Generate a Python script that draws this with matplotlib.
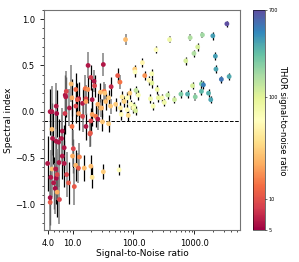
import numpy as np
import matplotlib
matplotlib.use('Agg')
import matplotlib.pyplot as plt
from matplotlib.colors import LogNorm
from matplotlib.ticker import FixedLocator, FormatStrFormatter, AutoMinorLocator, NullFormatter

snr = [3400, 390, 850, 1350, 2000, 1130, 234, 980, 2200, 720, 2250, 2760, 3700, 930, 1300, 1400,
       1300, 1700, 1850, 1030, 770, 600, 365, 470, 320, 295, 255, 210, 190, 200, 200, 245,
       74, 32, 140, 105, 106, 153, 180, 55, 60, 43, 110, 120, 87, 33, 18, 20, 22.5, 23, 9.5,
       7.6, 7.9, 11.3, 16.2, 17.9, 12.6, 16.6, 11.3, 8.9, 4.3, 5.4, 5.5, 7.5, 28.7, 33.8, 39,
       65, 79, 102, 7.75, 9.8, 4.6, 4.6, 6.8, 9.8, 16.6, 19.3, 4.7, 5.4, 7.3, 10.3, 20, 12.6,
       14.6, 21, 24, 26, 12, 14.6, 16.6, 21, 26, 29, 30, 35, 42, 51, 61, 70, 79, 90, 100, 108,
       63, 82, 31, 39, 3.9, 4.6, 5.3, 4.4, 5.4, 5.6, 6.8, 6.0, 7.3, 8.0, 8.6, 10.7, 4.9, 5.2,
       5.6, 6.1, 4.3, 4.3, 10, 13, 11.3, 12.5, 15.6, 20, 21, 32, 58, 19.6, 6.6, 5.9]
alpha = [0.95, 0.78, 0.80, 0.83, 0.82, 0.70, 0.67, 0.63, 0.60, 0.55, 0.46, 0.35, 0.38, 0.28, 0.30, 0.29,
         0.22, 0.20, 0.13, 0.16, 0.19, 0.19, 0.18, 0.13, 0.10, 0.15, 0.15, 0.06, 0.14, 0.31, 0.41, 0.24,
         0.78, 0.51, 0.53, 0.46, 0.43, 0.39, 0.34, 0.39, 0.32, 0.27, 0.23, 0.18, 0.20, 0.22, 0.50, 0.37,
         0.33, 0.28, 0.30, 0.18, 0.22, 0.24, 0.25, 0.24, 0.14, 0.14, 0.06, 0.04, 0.0, 0.06, -0.02, -0.02,
         0.21, 0.20, 0.15, 0.16, 0.15, 0.06, 0.16, 0.15, 0.0, -0.19, -0.21, -0.16, -0.16, -0.24, -0.29,
         -0.32, -0.39, -0.40, -0.10, -0.02, -0.05, -0.03, -0.05, -0.08, 0.13, 0.09, 0.11, 0.13, 0.08,
         0.04, 0.04, 0.11, 0.06, 0.08, 0.04, 0.11, 0.02, 0.08, 0.04, 0.01, -0.03, -0.04, -0.11, -0.13,
         -0.56, -0.62, -0.62, -0.71, -0.72, -0.68, -0.48, -0.55, -0.56, -0.68, -0.77, -0.81, -0.77, -0.83,
         -0.87, -0.95, -0.93, -0.98, -0.48, -0.49, -0.58, -0.61, -0.61, -0.59, -0.71, -0.65, -0.63, -0.23,
         -0.29, -0.33]
alpha_err = [0.03, 0.04, 0.04, 0.03, 0.04, 0.04, 0.04, 0.04, 0.04, 0.04, 0.04, 0.04, 0.04, 0.04, 0.04, 0.04,
             0.04, 0.04, 0.04, 0.04, 0.04, 0.04, 0.04, 0.04, 0.04, 0.04, 0.04, 0.04, 0.05, 0.05, 0.05, 0.05,
             0.06, 0.12, 0.05, 0.05, 0.05, 0.05, 0.05, 0.08, 0.08, 0.10, 0.05, 0.05, 0.06, 0.10, 0.14, 0.14,
             0.12, 0.12, 0.20, 0.22, 0.22, 0.18, 0.15, 0.15, 0.18, 0.15, 0.18, 0.20, 0.25, 0.25, 0.25, 0.22,
             0.10, 0.10, 0.08, 0.06, 0.06, 0.05, 0.22, 0.20, 0.28, 0.28, 0.25, 0.20, 0.15, 0.14, 0.28,
             0.28, 0.25, 0.20, 0.14, 0.18, 0.17, 0.13, 0.12, 0.12, 0.18, 0.17, 0.15, 0.13, 0.12,
             0.10, 0.10, 0.09, 0.08, 0.07, 0.06, 0.06, 0.06, 0.05, 0.05, 0.05, 0.06, 0.06, 0.10, 0.09,
             0.30, 0.30, 0.28, 0.30, 0.28, 0.28, 0.25, 0.26, 0.25, 0.24, 0.23, 0.20, 0.28, 0.28,
             0.27, 0.26, 0.30, 0.30, 0.18, 0.15, 0.17, 0.16, 0.14, 0.12, 0.12, 0.08, 0.06, 0.14,
             0.25, 0.25]
thor_snr = [700, 80, 150, 170, 350, 110, 60, 150, 350, 110, 330, 500, 320, 110, 220, 450,
            280, 300, 330, 200, 300, 220, 130, 120, 80, 70, 90, 70, 75, 100, 70, 80,
            25, 6, 50, 30, 60, 18, 55, 11, 14, 7, 130, 70, 30, 14, 6, 8, 6, 9, 25,
            6, 9, 13, 14, 18, 6, 9, 9, 6, 6, 6, 5.5, 8, 25, 28, 30,
            45, 60, 110, 6, 22, 6, 25, 6, 14, 6, 9, 6, 6, 6, 9, 9, 20,
            9, 20, 15, 6, 11, 6, 20, 6, 22, 24, 24, 26, 28, 30, 45, 32, 55, 60, 65, 110,
            55, 35, 28, 30, 6, 25, 6, 6, 5.5, 9, 6, 6, 6, 9, 11, 11, 6, 5.5,
            22, 9, 5.5, 11, 22, 16, 24, 11, 25, 25, 40, 30, 60, 11, 6, 6]
grey_bar = [0, 1, 1, 1, 0, 0, 0, 0, 0, 0, 0, 0, 0, 0, 0, 0,
            0, 0, 0, 1, 0, 0, 0, 0, 0, 0, 0, 0, 0, 0, 0, 0,
            1, 1, 0, 0, 0, 0, 0, 0, 1, 0, 0, 0, 0, 1, 1, 0, 1, 0, 1,
            0, 1, 0, 1, 0, 0, 1, 0, 1, 0, 1, 0, 0, 0, 1, 0,
            0, 0, 0, 0, 0, 1, 0, 1, 0, 0, 1, 0, 1, 0, 1, 0, 0,
            1, 0, 0, 1, 0, 0, 1, 0, 0, 1, 0, 0, 1, 0, 0, 0, 0, 0, 0, 0,
            0, 0, 0, 0, 0, 1, 0, 1, 0, 1, 0, 1, 0, 1, 0, 1, 0, 1,
            0, 1, 0, 1, 0, 1, 0, 1, 0, 0, 0, 0, 0, 0, 1, 0]

snr = np.array(snr)
alpha = np.array(alpha)
alpha_err = np.array(alpha_err)
thor_snr = np.array(thor_snr)
grey_bar = np.array(grey_bar).astype(bool)

fig = plt.figure(figsize=(2.99, 2.62), dpi=100)
ax = fig.add_axes([0.147, 0.122, 0.656, 0.840])
cax = fig.add_axes([0.846, 0.122, 0.040, 0.840])

ax.errorbar(snr[~grey_bar], alpha[~grey_bar], yerr=alpha_err[~grey_bar], fmt='none',
            ecolor='black', elinewidth=0.9, zorder=1)
ax.errorbar(snr[grey_bar], alpha[grey_bar], yerr=alpha_err[grey_bar], fmt='none',
            ecolor='grey', elinewidth=1.1, zorder=1)
sc = ax.scatter(snr, alpha, c=thor_snr, cmap='Spectral', norm=LogNorm(vmin=5, vmax=700),
                s=12, linewidths=0, zorder=2)
ax.axhline(-0.1, color='black', linestyle='--', linewidth=0.7, zorder=0)

ax.set_xscale('log')
ax.set_xlim(3.4, 5600)
ax.set_ylim(-1.28, 1.1)
ax.xaxis.set_major_locator(FixedLocator([4, 10, 100, 1000]))
ax.xaxis.set_major_formatter(FormatStrFormatter('%.1f'))
ax.xaxis.set_minor_formatter(NullFormatter())
ax.set_yticks([-1.0, -0.5, 0.0, 0.5, 1.0])
ax.yaxis.set_minor_locator(AutoMinorLocator(5))
ax.tick_params(labelsize=6, length=3, width=0.6)
ax.tick_params(which='minor', length=1.5, width=0.5)
for sp in ax.spines.values():
    sp.set_color('0.45')
ax.set_xlabel('Signal-to-Noise ratio', fontsize=6.5, labelpad=1)
ax.set_ylabel('Spectral index', fontsize=6.5, labelpad=1)

cb = fig.colorbar(sc, cax=cax)
cb.set_ticks([5, 10, 100, 700])
cb.set_ticklabels(['5', '10', '100', '700'])
cb.ax.minorticks_off()
cb.ax.tick_params(labelsize=3.5, length=1.5, width=0.4, pad=1)
cb.outline.set_linewidth(0.4)
cb.set_label('THOR signal-to-noise ratio', fontsize=6, rotation=270, labelpad=7)

fig.savefig('out.png', dpi=100)
